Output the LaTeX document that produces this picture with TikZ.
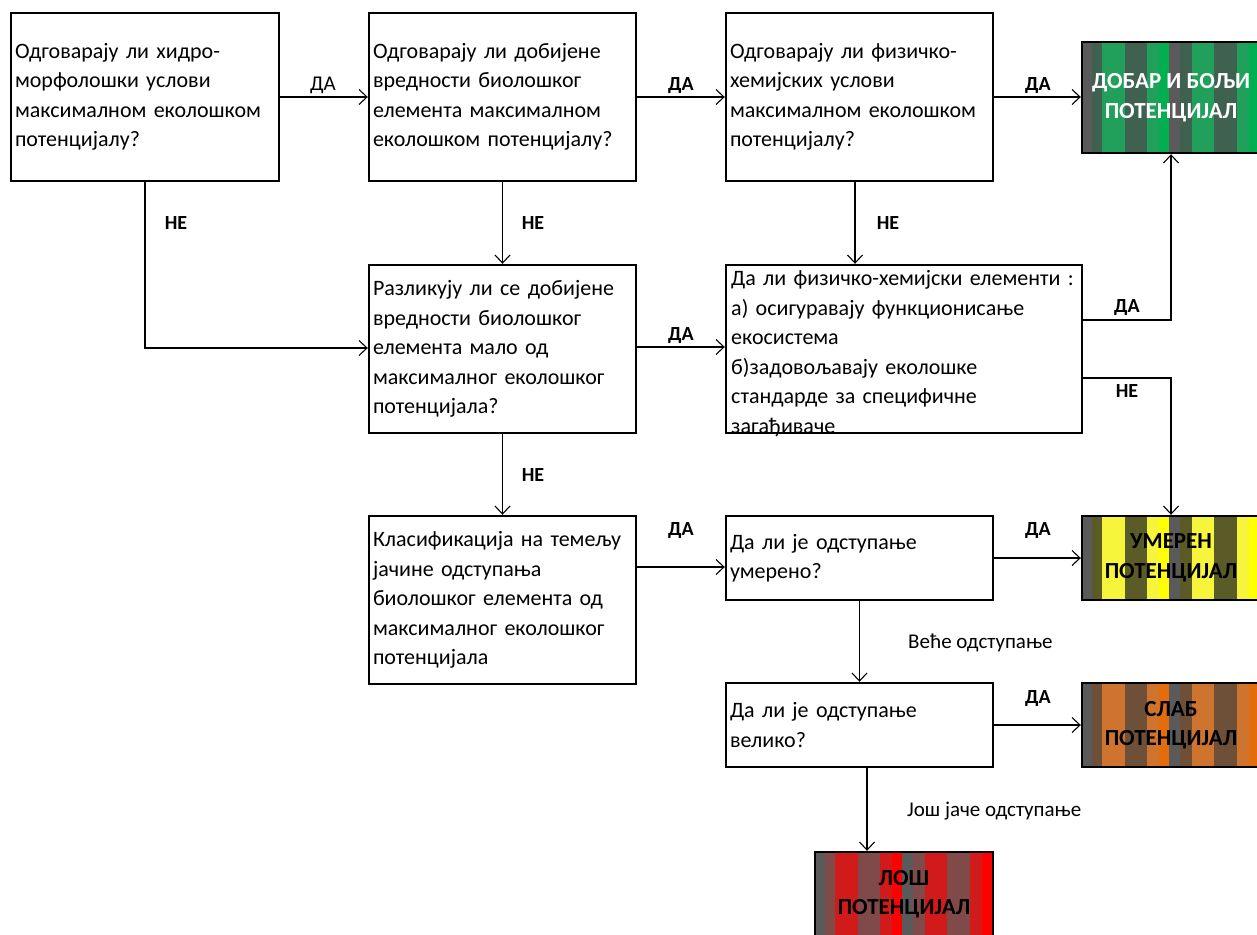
\documentclass[tikz,border=0pt]{standalone}
\usepackage{fontspec}
\setmainfont{Carlito}
\usetikzlibrary{arrows.meta,calc}
\definecolor{stripeGray}{HTML}{5A5A5A}
\definecolor{grnD}{HTML}{3F6150}
\definecolor{grnC}{HTML}{21A05B}
\definecolor{grnB}{HTML}{00B050}
\definecolor{ylwD}{HTML}{5B5B28}
\definecolor{ylwC}{HTML}{F7F43C}
\definecolor{ylwB}{HTML}{FFFF00}
\definecolor{orgD}{HTML}{6E5039}
\definecolor{orgC}{HTML}{CE742E}
\definecolor{orgB}{HTML}{E46C0A}
\definecolor{redD}{HTML}{814A4A}
\definecolor{redC}{HTML}{D11A1A}
\definecolor{redB}{HTML}{FF0000}
\newcommand\stripefill[4]{%
  \foreach \a/\b/\c in {0/10/stripeGray,10/20/#4D,20/43/#4C,43/65/#4D,65/77/#4C,77/87/#4B,87/98/stripeGray,98/110/#4D,110/132/#4C,132/155/#4D,155/167/#4C,167/178/#4B}
    \fill[\c] ({#1+\a},#2) rectangle ({#1+\b},#3);%
}
\tikzset{
  box/.style={draw=black, line width=2.4pt, rectangle, inner sep=0pt, align=left,
    font=\fontsize{22}{29.5}\selectfont},
  res/.style={draw=black, line width=2.4pt, rectangle, inner sep=0pt, align=center,
    minimum width=178pt, font=\fontsize{23}{29.5}\selectfont\bfseries},
  arr/.style={line width=1.1pt, -{Straight Barb[length=8pt,width=15pt,line width=1.1pt]}},
  lbl/.style={font=\fontsize{20}{23}\selectfont\bfseries, inner sep=0pt},
  lbln/.style={font=\fontsize{21}{24}\selectfont, inner sep=0pt},
}
\begin{document}
\begin{tikzpicture}[x=1pt,y=-1pt]
\useasboundingbox (0,0) rectangle (1257,934);
% stripes of result boxes
\stripefill{1082}{42}{153}{grn}
\stripefill{1082}{516}{600}{ylw}
\stripefill{1082}{683}{767}{org}
\stripefill{815}{852}{936}{red}

% question boxes
\node[box, minimum width=268pt, minimum height=168pt, text width=260pt] (A) at (145,97)
  {Одговарају ли хидро-\\морфолошки услови\\максималном еколошком\\потенцијалу?};
\node[box, minimum width=267pt, minimum height=168pt, text width=259pt] (B) at (502.5,97)
  {Одговарају ли добијене\\вредности биолошког\\елемента максималном\\еколошком потенцијалу?};
\node[box, minimum width=267pt, minimum height=168pt, text width=259pt] (C) at (859.5,97)
  {Одговарају ли физичко-\\хемијских услови\\максималном еколошком\\потенцијалу?};
\node[box, minimum width=267pt, minimum height=168pt, text width=259pt] (D) at (502.5,349)
  {Разликују ли се добијене\\вредности биолошког\\елемента мало од\\максималног еколошког\\потенцијала?};
\node[box, draw=none, anchor=north west, text width=350pt] (Et) at (730,264)
  {\strut Да ли физичко-хемијски елементи :\\а) осигуравају функционисање\\екосистема\\б)задовољавају еколошке\\стандарде за специфичне\\загађиваче};
\node[box, minimum width=356pt, minimum height=168pt] (E) at (904,349) {};
\node[box, minimum width=267pt, minimum height=168pt, text width=259pt] (F) at (502.5,600)
  {Класификација на темељу\\јачине одступања\\биолошког елемента од\\максималног еколошког\\потенцијала};
\node[box, minimum width=267pt, minimum height=84pt, text width=259pt] (G) at (859.5,558)
  {Да ли је одступање\\умерено?};
\node[box, minimum width=267pt, minimum height=84pt, text width=259pt] (H) at (859.5,725)
  {Да ли је одступање\\велико?};

% result boxes
\node[res, minimum height=111pt, text=white] (Gr) at (1171,97.5) {ДОБАР И БОЉИ\\ПОТЕНЦИЈАЛ};
\node[res, minimum height=84pt] (Y) at (1171,558) {УМЕРЕН\\ПОТЕНЦИЈАЛ};
\node[res, minimum height=84pt] (O) at (1171,725) {СЛАБ\\ПОТЕНЦИЈАЛ};
\node[res, minimum height=84pt] (R) at (904,894) {ЛОШ\\ПОТЕНЦИЈАЛ};

% connectors
\draw[arr] (A.east) -- (B.west);
\draw[arr] (B.east) -- (C.west);
\draw[arr] (C.east) -- (C.east -| Gr.west);
\draw[arr] (A.south) |- ([yshift=1pt]D.west);
\draw[arr] (B.south) -- (D.north);
\draw[arr] ([xshift=-4.5pt]C.south) -- ([xshift=-4.5pt]C.south |- E.north);
\draw[arr] ([yshift=2pt]D.east) -- ([yshift=2pt]D.east -| E.west);
\draw[arr] ([yshift=29pt]E.east) -| (Gr.south);
\draw[arr] ([yshift=-29pt]E.east) -| (Y.north);
\draw[arr] (D.south) -- (F.north);
\draw[arr] ([yshift=-9pt]G.west -| F.east) -- ([yshift=-9pt]G.west);
\draw[arr] (G.east) -- (Y.west);
\draw[arr] (G.south) -- (H.north);
\draw[arr] (H.east) -- (O.west);
\draw[arr] ([xshift=7.5pt]H.south) -- ([xshift=7.5pt]H.south |- R.north);

% labels
\node[lbln] (l1) at (323,85) {ДА};
\node[lbl] (l2) at (681,86) {ДА};
\node[lbl] (l3) at (1038,86) {ДА};
\node[lbl] (l4) at (176,223) {НЕ};
\node[lbl] (l5) at (533,223) {НЕ};
\node[lbl] (l6) at (888,223) {НЕ};
\node[lbl] (l7) at (681,336) {ДА};
\node[lbl] (l8) at (1127,308) {ДА};
\node[lbl] (l9) at (1127,391) {НЕ};
\node[lbl] (l10) at (533,475) {НЕ};
\node[lbl] (l11) at (681,531) {ДА};
\node[lbl] (l12) at (1038,531) {ДА};
\node[lbln, anchor=west] (l13) at (908,643) {Веће одступање};
\node[lbl] (l14) at (1038,699) {ДА};
\node[lbln, anchor=west] (l15) at (907,811) {Још јаче одступање};
\end{tikzpicture}
\end{document}
